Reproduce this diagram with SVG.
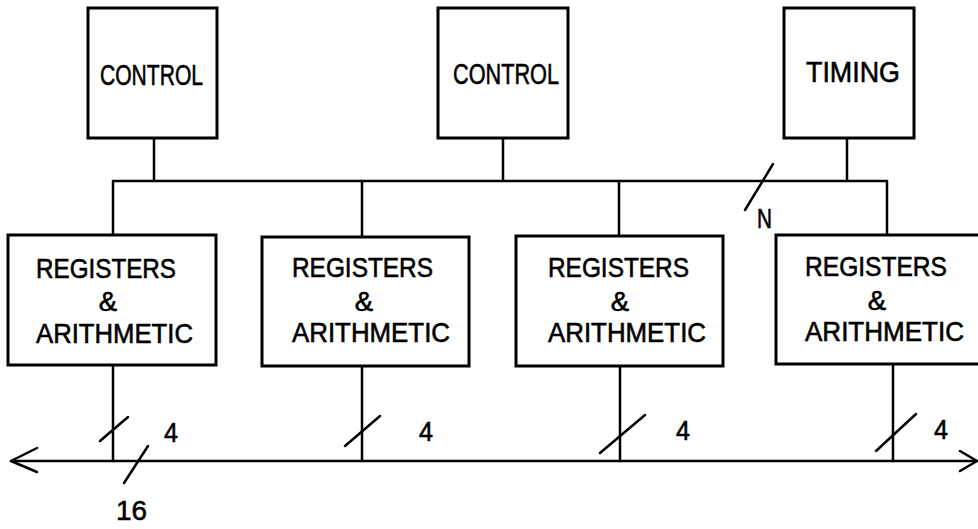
<svg xmlns="http://www.w3.org/2000/svg" width="978" height="529" viewBox="0 0 978 529">
<style>
.box{fill:#fff;stroke:#000;stroke-width:3}
.ln{fill:none;stroke:#000;stroke-width:2.5;stroke-linecap:round;stroke-linejoin:round}
.t{font-family:"Liberation Sans",Arial,sans-serif;font-size:30px;fill:#000;stroke:#000;stroke-width:0.6}
.s{font-family:"Liberation Sans",Arial,sans-serif;font-size:27.5px;fill:#000;stroke:#000;stroke-width:0.6}
</style>
<g id="connectors">
<path class="ln" d="M154,138 V181 M503,138 V181 M847,138 V181 M113,236 V181 H887 V235"/>
<path class="ln" d="M362,181 V237 M619,181 V236"/>
<path class="ln" d="M745,210 L773,164"/>
<path class="ln" d="M113,365 V461 M362,366 V461 M620,366 V461 M893,364 V461"/>
<path class="ln" d="M11,461 H977"/>
<path class="ln" d="M37,448 L11,461 L37,472 M960,451 L977,461 L960,471"/>
<path class="ln" d="M100,441 L128,417 M345,446 L380,416 M600,453 L645,415 M876,451 L916,414 M124,483 L148,446"/>
</g>
<g id="control1"><rect class="box" x="88" y="8" width="129" height="130"/><text class="t" x="100" y="85" textLength="103" lengthAdjust="spacingAndGlyphs">CONTROL</text></g>
<g id="control2"><rect class="box" x="438" y="8" width="130" height="130"/><text class="t" x="453" y="84" textLength="106" lengthAdjust="spacingAndGlyphs">CONTROL</text></g>
<g id="timing"><rect class="box" x="784" y="8" width="130" height="130"/><text class="t" x="806" y="82" textLength="94" lengthAdjust="spacingAndGlyphs">TIMING</text></g>
<g id="reg1"><rect class="box" x="8" y="235" width="208" height="130"/>
<text class="s" x="36" y="278" textLength="140" lengthAdjust="spacingAndGlyphs">REGISTERS</text>
<text class="s" x="108" y="311" text-anchor="middle">&amp;</text>
<text class="s" x="36" y="343" textLength="157" lengthAdjust="spacingAndGlyphs">ARITHMETIC</text></g>
<g id="reg2"><rect class="box" x="262" y="237" width="207" height="129"/>
<text class="s" x="292" y="277" textLength="141" lengthAdjust="spacingAndGlyphs">REGISTERS</text>
<text class="s" x="364" y="311" text-anchor="middle">&amp;</text>
<text class="s" x="292" y="342" textLength="158" lengthAdjust="spacingAndGlyphs">ARITHMETIC</text></g>
<g id="reg3"><rect class="box" x="516" y="236" width="207" height="130"/>
<text class="s" x="548" y="277" textLength="141" lengthAdjust="spacingAndGlyphs">REGISTERS</text>
<text class="s" x="620" y="311" text-anchor="middle">&amp;</text>
<text class="s" x="548" y="342" textLength="158" lengthAdjust="spacingAndGlyphs">ARITHMETIC</text></g>
<g id="reg4"><rect class="box" x="776" y="235" width="210" height="129"/>
<text class="s" x="805" y="276" textLength="142" lengthAdjust="spacingAndGlyphs">REGISTERS</text>
<text class="s" x="877" y="310" text-anchor="middle">&amp;</text>
<text class="s" x="805" y="341" textLength="159" lengthAdjust="spacingAndGlyphs">ARITHMETIC</text></g>
<g id="labels">
<text class="s" x="757" y="228" textLength="15" lengthAdjust="spacingAndGlyphs">N</text>
<text class="s" x="164" y="442" textLength="14" lengthAdjust="spacingAndGlyphs">4</text>
<text class="s" x="419" y="441" textLength="14" lengthAdjust="spacingAndGlyphs">4</text>
<text class="s" x="676" y="440" textLength="14" lengthAdjust="spacingAndGlyphs">4</text>
<text class="s" x="934" y="439" textLength="14" lengthAdjust="spacingAndGlyphs">4</text>
<text class="s" x="116" y="520" textLength="31" lengthAdjust="spacingAndGlyphs">16</text>
</g>
</svg>
